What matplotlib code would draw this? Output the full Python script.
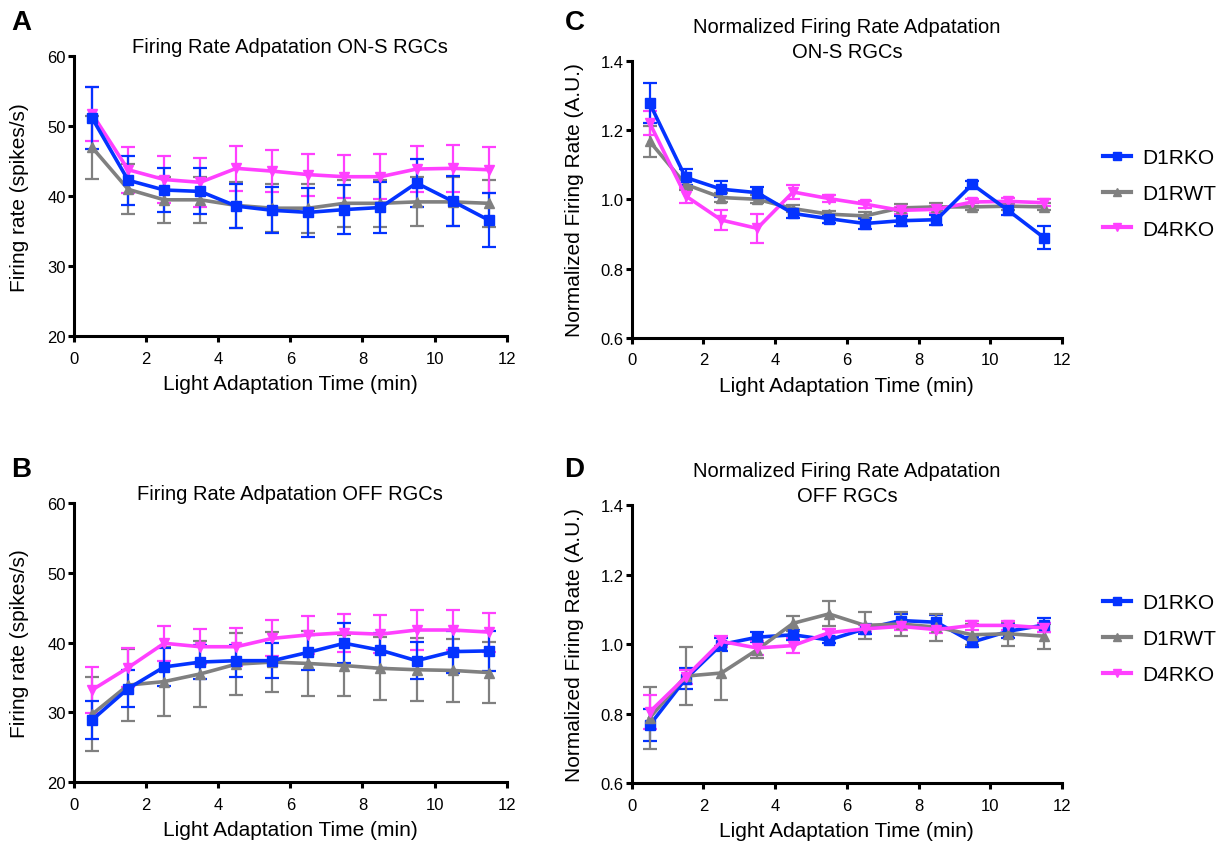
import matplotlib
matplotlib.use("Agg")
from matplotlib import pyplot as plt
from matplotlib.lines import Line2D

plt.rcParams['font.family'] = ['Liberation Sans', 'DejaVu Sans']

# 时间点 (min)
time = [0.5, 1.5, 2.5, 3.5, 4.5, 5.5, 6.5, 7.5, 8.5, 9.5, 10.5, 11.5]

# A: ON-S firing rate (spikes/s)
a_ko = [51.2, 42.3, 40.9, 40.7, 38.6, 38.0, 37.7, 38.1, 38.4, 41.9, 39.3, 36.6]
a_ko_err = [4.4, 3.5, 3.2, 3.3, 3.2, 3.3, 3.5, 3.5, 3.6, 3.5, 3.6, 3.9]
a_wt = [47.0, 41.0, 39.5, 39.5, 38.7, 38.3, 38.3, 39.0, 39.0, 39.2, 39.2, 39.0]
a_wt_err = [4.5, 3.6, 3.3, 3.3, 3.3, 3.4, 3.5, 3.4, 3.4, 3.5, 3.5, 3.4]
a_d4 = [51.8, 43.8, 42.4, 42.0, 44.0, 43.6, 43.1, 42.8, 42.8, 43.9, 44.0, 43.8]
a_d4_err = [3.9, 3.3, 3.3, 3.5, 3.2, 3.0, 3.0, 3.1, 3.2, 3.3, 3.4, 3.3]

# B: OFF firing rate (spikes/s)
b_ko = [28.9, 33.4, 36.5, 37.2, 37.4, 37.4, 38.6, 39.9, 38.9, 37.4, 38.7, 38.8]
b_ko_err = [2.7, 2.7, 2.7, 2.4, 2.3, 2.5, 2.5, 2.9, 2.5, 2.7, 3.0, 2.9]
b_wt = [29.7, 33.9, 34.4, 35.5, 36.9, 37.2, 37.0, 36.7, 36.3, 36.1, 36.0, 35.7]
b_wt_err = [5.3, 5.2, 5.0, 4.7, 4.4, 4.3, 4.6, 4.4, 4.5, 4.5, 4.5, 4.4]
b_d4 = [33.2, 36.4, 39.9, 39.4, 39.4, 40.6, 41.1, 41.4, 41.2, 41.8, 41.8, 41.5]
b_d4_err = [3.3, 2.8, 2.5, 2.5, 2.7, 2.6, 2.7, 2.7, 2.7, 2.8, 2.9, 2.8]

# C: ON-S normalized (A.U.)
c_ko = [1.277, 1.063, 1.029, 1.019, 0.959, 0.944, 0.930, 0.938, 0.941, 1.043, 0.968, 0.889]
c_ko_err = [0.058, 0.023, 0.023, 0.017, 0.012, 0.012, 0.015, 0.015, 0.015, 0.010, 0.012, 0.033]
c_wt = [1.167, 1.043, 1.005, 1.000, 0.973, 0.957, 0.952, 0.975, 0.978, 0.978, 0.980, 0.978]
c_wt_err = [0.045, 0.015, 0.012, 0.012, 0.010, 0.010, 0.010, 0.010, 0.010, 0.010, 0.010, 0.010]
c_d4 = [1.220, 1.010, 0.940, 0.916, 1.021, 1.002, 0.986, 0.968, 0.971, 0.992, 0.994, 0.990]
c_d4_err = [0.035, 0.022, 0.030, 0.042, 0.020, 0.010, 0.010, 0.010, 0.010, 0.010, 0.010, 0.010]

# D: OFF normalized (A.U.)
d_ko = [0.767, 0.900, 0.999, 1.020, 1.027, 1.012, 1.044, 1.068, 1.063, 1.006, 1.037, 1.055]
d_ko_err = [0.045, 0.030, 0.020, 0.015, 0.015, 0.010, 0.015, 0.020, 0.020, 0.015, 0.020, 0.020]
d_wt = [0.788, 0.908, 0.917, 0.984, 1.060, 1.087, 1.054, 1.058, 1.049, 1.027, 1.030, 1.023]
d_wt_err = [0.090, 0.083, 0.078, 0.025, 0.022, 0.036, 0.038, 0.035, 0.039, 0.030, 0.035, 0.036]
d_d4 = [0.805, 0.905, 1.008, 0.989, 0.996, 1.033, 1.044, 1.051, 1.042, 1.054, 1.054, 1.047]
d_d4_err = [0.050, 0.020, 0.015, 0.020, 0.022, 0.010, 0.010, 0.010, 0.010, 0.013, 0.013, 0.013]

labels = ['D1RKO', 'D1RWT', 'D4RKO']
colors = ['#0433FF', '#808080', '#FF40FF']
markers = ['s', '^', 'v']

fig = plt.figure(figsize=(12.22, 8.45), dpi=100)
ax_a = fig.add_axes([0.0606, 0.601, 0.354, 0.331])
ax_b = fig.add_axes([0.0606, 0.0734, 0.354, 0.330])
ax_c = fig.add_axes([0.517, 0.599, 0.352, 0.328])
ax_d = fig.add_axes([0.517, 0.072, 0.352, 0.329])


def draw(ax, series, order):
    for i in order:
        y, err = series[i]
        ax.errorbar(time, y, yerr=err, color=colors[i], marker=markers[i],
                    markersize=7.5, lw=2.6, elinewidth=1.6, capsize=5,
                    capthick=1.6)


draw(ax_a, [(a_ko, a_ko_err), (a_wt, a_wt_err), (a_d4, a_d4_err)], [1, 2, 0])
draw(ax_b, [(b_ko, b_ko_err), (b_wt, b_wt_err), (b_d4, b_d4_err)], [1, 2, 0])
draw(ax_c, [(c_ko, c_ko_err), (c_wt, c_wt_err), (c_d4, c_d4_err)], [1, 2, 0])
draw(ax_d, [(d_ko, d_ko_err), (d_wt, d_wt_err), (d_d4, d_d4_err)], [0, 1, 2])

for ax in (ax_a, ax_b, ax_c, ax_d):
    ax.set_xlim(0, 12)
    ax.set_xticks(range(0, 13, 2))
    ax.spines['top'].set_visible(False)
    ax.spines['right'].set_visible(False)
    ax.spines['left'].set_linewidth(2.2)
    ax.spines['bottom'].set_linewidth(2.2)
    ax.tick_params(axis='both', direction='out', length=4.5, width=2.2,
                   labelsize=12)
    ax.tick_params(axis='x', pad=6)
    ax.tick_params(axis='y', pad=1.5)
    ax.set_xlabel("Light Adaptation Time (min)", fontsize=15, labelpad=6)

ax_a.set_title("Firing Rate Adpatation ON-S RGCs", fontsize=14.5, pad=3)
ax_b.set_title("Firing Rate Adpatation OFF RGCs", fontsize=14.5, pad=3)
ax_c.set_title("Normalized Firing Rate Adpatation\nON-S RGCs", fontsize=14.5,
               pad=0, linespacing=1.4)
ax_d.set_title("Normalized Firing Rate Adpatation\nOFF RGCs", fontsize=14.5,
               pad=0, linespacing=1.4)

for ax in (ax_a, ax_b):
    ax.set_ylim(20, 60)
    ax.set_yticks(range(20, 61, 10))
    ax.set_ylabel("Firing rate (spikes/s)", fontsize=15, labelpad=13)

for ax in (ax_c, ax_d):
    ax.set_ylim(0.6, 1.4)
    ax.set_yticks([0.6, 0.8, 1.0, 1.2, 1.4])
    ax.set_yticklabels(['0.6', '0.8', '1.0', '1.2', '1.4'])
    ax.set_ylabel("Normalized Firing Rate (A.U.)", fontsize=15, labelpad=11.5)

# 图例
handles = [Line2D([], [], color=colors[i], marker=markers[i], lw=3,
                  markersize=5.5) for i in range(3)]
for yc in (0.770, 0.243):
    fig.legend(handles, labels, loc='center left', bbox_to_anchor=(0.903, yc),
               frameon=False, fontsize=15, handlelength=1.3,
               handletextpad=0.55, labelspacing=0.8, borderpad=0,
               borderaxespad=0)

# 面板字母
for letter, xl, yl in [('A', 0.009, 0.9645), ('B', 0.009, 0.435),
                       ('C', 0.462, 0.9645), ('D', 0.462, 0.435)]:
    fig.text(xl, yl, letter, fontsize=20, fontweight='bold')

fig.savefig('out.png', dpi=100)
